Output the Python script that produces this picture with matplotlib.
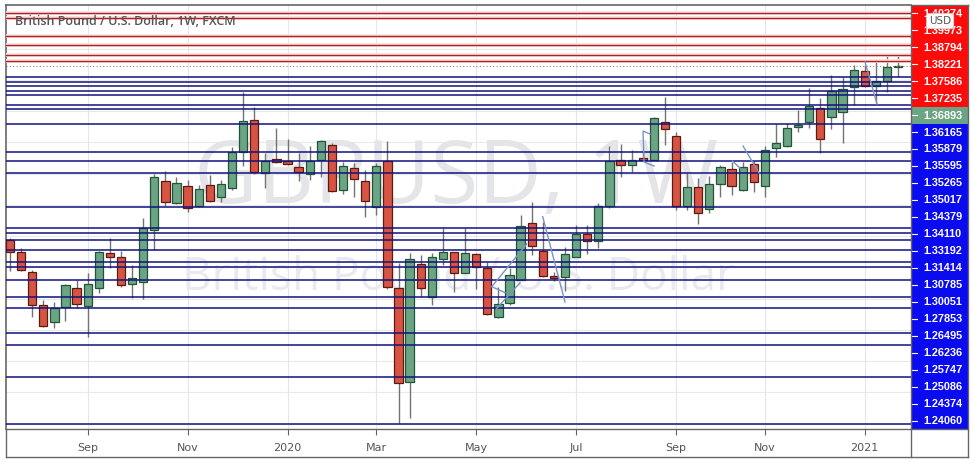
import numpy as np
import pandas as pd
import matplotlib
matplotlib.use("Agg")
import matplotlib.pyplot as plt
from matplotlib.patches import Rectangle
from matplotlib.lines import Line2D

# weekly GBP/USD candles
weeks = pd.date_range("2019-07-15", periods=81, freq="W-MON")

opens = [1.2576, 1.2499, 1.2371, 1.2160, 1.2051, 1.2147, 1.2268, 1.2153, 1.2268, 1.2492,
         1.2467, 1.2294, 1.2307, 1.2640, 1.2953, 1.2812, 1.2921, 1.2793, 1.2928, 1.2851,
         1.2908, 1.3139, 1.3344, 1.3005, 1.3094, 1.3081, 1.3043, 1.2998, 1.3088, 1.3184,
         1.2896, 1.3036, 1.2953, 1.2787, 1.3081, 1.2268, 1.1667, 1.2422, 1.2211, 1.2454,
         1.2499, 1.2364, 1.2486, 1.2396, 1.2083, 1.2172, 1.2320, 1.2684, 1.2505, 1.2345,
         1.2339, 1.2467, 1.2614, 1.2569, 1.2793, 1.3088, 1.3056, 1.3100, 1.3088, 1.3331,
         1.3241, 1.2793, 1.2915, 1.2774, 1.2934, 1.3030, 1.2896, 1.3062, 1.2921, 1.3164,
         1.3177, 1.3299, 1.3331, 1.3420, 1.3363, 1.3395, 1.3555, 1.3657, 1.3561, 1.3593,
         1.3683]
highs = [1.2588, 1.2524, 1.2384, 1.2192, 1.2179, 1.2294, 1.2320, 1.2364, 1.2505, 1.2588,
         1.2505, 1.2416, 1.2716, 1.2998, 1.3017, 1.2979, 1.2960, 1.2928, 1.2992, 1.2960,
         1.3171, 1.3523, 1.3427, 1.3132, 1.3292, 1.3222, 1.3132, 1.3177, 1.3216, 1.3196,
         1.3075, 1.3068, 1.3024, 1.3068, 1.3209, 1.2428, 1.2492, 1.2480, 1.2492, 1.2652,
         1.2499, 1.2652, 1.2492, 1.2435, 1.2275, 1.2396, 1.2736, 1.2819, 1.2691, 1.2371,
         1.2531, 1.2672, 1.2672, 1.2812, 1.3177, 1.3190, 1.3152, 1.3139, 1.3363, 1.3491,
         1.3267, 1.3005, 1.2972, 1.2985, 1.3056, 1.3075, 1.3075, 1.3081, 1.3177, 1.3318,
         1.3324, 1.3408, 1.3549, 1.3484, 1.3632, 1.3619, 1.3696, 1.3696, 1.3721, 1.3753,
         1.3766]
lows = [1.2377, 1.2377, 1.2083, 1.2019, 1.2012, 1.2057, 1.2140, 1.1955, 1.2236, 1.2396,
        1.2275, 1.2204, 1.2198, 1.2512, 1.2793, 1.2806, 1.2755, 1.2787, 1.2819, 1.2819,
        1.2896, 1.3049, 1.2998, 1.2908, 1.3068, 1.3056, 1.2953, 1.2960, 1.2979, 1.2883,
        1.2870, 1.2851, 1.2723, 1.2736, 1.2262, 1.1405, 1.1437, 1.2211, 1.2160, 1.2416,
        1.2243, 1.2364, 1.2262, 1.2096, 1.2076, 1.2160, 1.2320, 1.2480, 1.2339, 1.2313,
        1.2249, 1.2467, 1.2486, 1.2524, 1.2780, 1.2979, 1.3011, 1.3081, 1.3088, 1.3184,
        1.2768, 1.2768, 1.2678, 1.2748, 1.2851, 1.2864, 1.2889, 1.2883, 1.2851, 1.3107,
        1.3171, 1.3267, 1.3292, 1.3132, 1.3286, 1.3196, 1.3440, 1.3555, 1.3452, 1.3523,
        1.3619]
closes = [1.2499, 1.2384, 1.2160, 1.2025, 1.2140, 1.2288, 1.2166, 1.2294, 1.2499, 1.2467,
          1.2288, 1.2332, 1.2652, 1.2979, 1.2819, 1.2940, 1.2780, 1.2902, 1.2825, 1.2934,
          1.3139, 1.3337, 1.3011, 1.3081, 1.3075, 1.3062, 1.3011, 1.3081, 1.3209, 1.2889,
          1.3049, 1.2966, 1.2825, 1.3049, 1.2275, 1.1661, 1.2454, 1.2268, 1.2467, 1.2499,
          1.2364, 1.2492, 1.2403, 1.2102, 1.2166, 1.2352, 1.2665, 1.2537, 1.2345, 1.2332,
          1.2486, 1.2614, 1.2569, 1.2793, 1.3081, 1.3056, 1.3088, 1.3088, 1.3356, 1.3286,
          1.2793, 1.2915, 1.2748, 1.2934, 1.3043, 1.2921, 1.3043, 1.2947, 1.3152, 1.3196,
          1.3292, 1.3312, 1.3433, 1.3222, 1.3529, 1.3542, 1.3664, 1.3561, 1.3593, 1.3683,
          1.36893]

last_price = 1.36893
red_levels = [1.40274, 1.39973, 1.38794, 1.38221, 1.37586, 1.37235]
blue_levels = [1.36165, 1.35879, 1.35595, 1.35265, 1.35017, 1.34379, 1.34110, 1.33192,
               1.31414, 1.30785, 1.30051, 1.27853, 1.26495, 1.26236, 1.25747, 1.25086,
               1.24374, 1.24060, 1.2320, 1.2211, 1.2141, 1.1981, 1.1904, 1.1699, 1.1398]
blue_labels = blue_levels[:18]

month_ticks = ["2019-09-02", "2019-11-04", "2020-01-06", "2020-03-02", "2020-05-04",
               "2020-07-06", "2020-09-07", "2020-11-02", "2021-01-04"]
month_names = ["Sep", "Nov", "2020", "Mar", "May", "Jul", "Sep", "Nov", "2021"]

# trend lines drawn on the chart (bar index, price)
drawings = [
    [(43.40, 1.2277), (46.55, 1.2550)],
    [(43.40, 1.2277), (44.59, 1.2239)],
    [(43.85, 1.2138), (45.95, 1.2302)],
    [(47.99, 1.2725), (50.00, 1.2179)],
    [(57.66, 1.3254), (57.03, 1.3273), (57.12, 1.3075), (58.02, 1.3049)],
    [(65.09, 1.3081), (65.77, 1.3036)],
    [(66.04, 1.3177), (67.48, 1.3005)],
    [(77.03, 1.3715), (78.11, 1.3446)],
]

up_fill, up_edge = "#6ba583", "#225437"
dn_fill, dn_edge = "#d75442", "#5b1a13"

W, H = 975, 463
fig = plt.figure(figsize=(W / 100, H / 100), dpi=100)
fig.patch.set_facecolor("white")


def box(x0, y0, x1, y1):
    return [x0 / W, 1 - y1 / H, (x1 - x0) / W, (y1 - y0) / H]


ax = fig.add_axes(box(6, 5, 911, 429))
pax = fig.add_axes(box(911, 5, 968, 429))

x = np.arange(len(weeks))
ax.set_xlim(-0.36, 81.17)
ax.set_ylim(1.13661, 1.40797)

# light grid
for g in np.arange(1.14, 1.41, 0.02):
    ax.axhline(g, color="#e9e9ec", lw=0.8, zorder=0)
tick_idx = weeks.get_indexer(pd.to_datetime(month_ticks))
for t in tick_idx:
    ax.axvline(t, color="#e4e6ec", lw=0.8, zorder=0)

# watermark
ax.text(0.497, 0.533, "GBPUSD, 1W", transform=ax.transAxes, ha="center", va="baseline",
        fontsize=63, family="Open Sans", color="#e4e5e8", zorder=0.5)
ax.text(0.5, 0.328, "British Pound / U.S. Dollar", transform=ax.transAxes, ha="center",
        va="baseline", fontsize=33, family="Open Sans", color="#e8eaf0", zorder=0.5)

# candles
for i, o, h, l, c in zip(x, opens, highs, lows, closes):
    up = c >= o
    ax.vlines(i, l, h, color="#737375", lw=1, zorder=2)
    ax.add_patch(Rectangle((i - 0.37, min(o, c)), 0.74, max(abs(c - o), 0.0004),
                           facecolor=up_fill if up else dn_fill,
                           edgecolor=up_edge if up else dn_edge, lw=0.9, zorder=3))

# horizontal levels
for lv in red_levels:
    ax.axhline(lv, color="#f9e2e2", lw=2.8, zorder=3.5)
    ax.axhline(lv, color="#b01e22", lw=1.0, zorder=4)
for lv in blue_levels:
    ax.axhline(lv, color="#12127e", lw=1.1, zorder=4)
ax.axhline(last_price, color="#8c8c8c", lw=0.8, ls=(0, (1, 2)), zorder=4)

for d in drawings:
    dx, dy = zip(*d)
    ax.plot(dx, dy, color="#7a93c8", lw=1.0, zorder=5)

ax.text(0.01, 0.96, "British Pound / U.S. Dollar, 1W, FXCM", transform=ax.transAxes,
        ha="left", va="center", fontsize=9, family="Open Sans", fontweight="semibold",
        color="#555555", zorder=6)

ax.set_xticks(tick_idx)
ax.set_xticklabels(month_names)
ax.tick_params(axis="x", length=4, color="#666666", labelsize=8, labelcolor="#555555", pad=6)
ax.set_yticks([])
for s in ["right", "bottom"]:
    ax.spines[s].set_visible(False)
for s in ["left", "top"]:
    ax.spines[s].set_color("#666666")
    ax.spines[s].set_linewidth(1.2)

# price axis labels (stacked like the original)
labels = red_levels + [last_price] + blue_labels
colors = ["#ff0a0a"] * len(red_levels) + [up_fill] + ["#0b0bf0"] * len(blue_labels)
pax.set_xlim(0, 1)
pax.set_ylim(len(labels), 0)
for k, (v, col) in enumerate(zip(labels, colors)):
    pax.add_patch(Rectangle((0, k), 1, 1, facecolor=col, edgecolor="none"))
    pax.plot([0.0, 0.1], [k + 0.5, k + 0.5], color="white", lw=0.8)
    pax.text(0.56, k + 0.52, f"{v:.5f}", ha="center", va="center", fontsize=7.8,
             family="Liberation Sans", fontweight="bold", color="white")
pax.text(0.51, 0.95, "USD", ha="center", va="center", fontsize=7.5, color="#555555",
         zorder=5, bbox=dict(boxstyle="round,pad=0.25", fc="white", ec="#cccccc", lw=0.6))
pax.axis("off")


# outer frame
def fline(xs, ys):
    fig.add_artist(Line2D([v / W for v in xs], [1 - v / H for v in ys], color="#666666",
                          lw=1.0, transform=fig.transFigure))


fline([6, 968], [429, 429])
fline([6, 968], [457, 457])
fline([968, 968], [5, 457])
fline([911, 911], [5, 457])
fline([6, 6], [429, 457])
fline([911, 968], [5, 5])

fig.savefig("out.png", dpi=100)
